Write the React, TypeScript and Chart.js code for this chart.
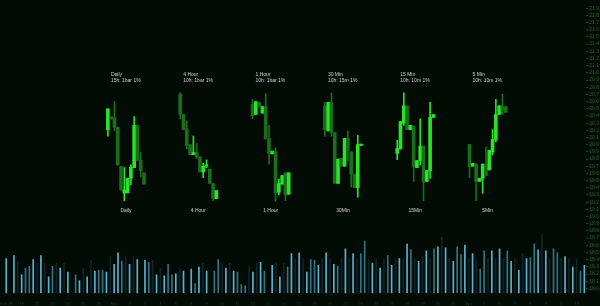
import React, { useEffect, useRef } from 'react';
import { Chart, registerables } from 'chart.js';

Chart.register(...registerables);

// ---- Data ----
const TIMEFRAMES = ['Daily', '4 Hour', '1 Hour', '30 Min', '15 Min', '5 Min'];
const TIMEFRAME_INFO = ['15h: 1bar 1%', '10h: 1bar 1%', '10h: 1bar 1%', '10h: 15m 1%', '10h: 10m 1%', '10h: 10m 1%'];
const BOTTOM_LABELS = ['Daily', '4 Hour', '1 Hour', '30Min', '15Min', '5Min'];

// candles: [open, high, low, close]
const DAILY = [
  [20.21, 20.50, 20.12, 20.50], [20.39, 20.39, 20.36, 20.36], [20.37, 20.60, 20.19, 20.24],
  [20.24, 20.24, 19.72, 19.72], [19.70, 19.70, 19.37, 19.37], [19.33, 19.68, 19.22, 19.37],
  [19.33, 19.53, 19.33, 19.53], [19.53, 19.72, 19.44, 19.69], [19.68, 20.39, 19.68, 20.27],
  [20.27, 20.27, 19.78, 19.78], [19.78, 19.89, 19.55, 19.64], [19.61, 19.61, 19.45, 19.45],
];
const HOUR_4 = [
  [20.70, 20.72, 20.36, 20.42], [20.42, 20.42, 20.21, 20.21], [20.21, 20.33, 19.94, 19.99],
  [20.00, 20.00, 19.86, 19.86], [19.86, 20.12, 19.86, 19.89], [19.89, 20.02, 19.81, 19.83],
  [19.83, 19.83, 19.62, 19.62], [19.62, 19.74, 19.54, 19.70], [19.70, 19.79, 19.68, 19.72],
  [19.66, 19.66, 19.46, 19.46], [19.46, 19.46, 19.22, 19.25], [19.25, 19.36, 19.25, 19.36],
];
const HOUR_1 = [
  [20.56, 20.63, 20.36, 20.40], [20.42, 20.60, 20.42, 20.60], [20.59, 20.59, 20.53, 20.53],
  [20.44, 20.53, 20.44, 20.53], [20.53, 20.71, 20.08, 20.08], [20.08, 20.27, 19.73, 19.88],
  [19.87, 19.91, 19.87, 19.91], [19.90, 19.96, 19.21, 19.33], [19.34, 19.52, 19.30, 19.46],
  [19.45, 19.57, 19.45, 19.57], [19.61, 19.61, 19.22, 19.30], [19.31, 19.61, 19.31, 19.61],
];
const MIN_30 = [
  [20.54, 20.59, 20.12, 20.21], [20.19, 20.59, 20.19, 20.59], [20.59, 20.72, 20.12, 20.17],
  [20.17, 20.17, 19.46, 19.46], [19.46, 19.80, 19.46, 19.80], [19.81, 19.81, 19.70, 19.70],
  [19.70, 20.09, 19.70, 20.09], [20.09, 20.19, 19.77, 19.92], [19.90, 19.90, 19.41, 19.59],
  [19.59, 19.59, 19.40, 19.40], [19.40, 20.13, 19.27, 20.00], [19.99, 20.01, 19.99, 20.01],
];
const MIN_15 = [
  [19.88, 20.06, 19.79, 19.95], [19.94, 20.32, 19.94, 20.32], [20.30, 20.72, 20.27, 20.54],
  [20.54, 20.54, 20.21, 20.21], [20.21, 20.27, 20.21, 20.27], [20.26, 20.26, 19.49, 19.69],
  [19.68, 19.78, 19.68, 19.78], [19.78, 20.36, 19.72, 19.98], [19.98, 19.98, 19.22, 19.48],
  [19.49, 19.64, 19.49, 19.64], [19.64, 20.59, 19.53, 20.38], [20.38, 20.42, 20.38, 20.42],
];
const MIN_5 = [
  [20.00, 20.00, 19.54, 19.69], [19.70, 19.74, 19.70, 19.74], [19.73, 19.73, 19.22, 19.49],
  [19.49, 19.53, 19.49, 19.53], [19.53, 19.73, 19.32, 19.73], [19.73, 19.97, 19.57, 19.57],
  [19.65, 19.92, 19.65, 19.92], [19.90, 20.21, 19.86, 20.07], [20.07, 20.63, 20.04, 20.42],
  [20.42, 20.54, 20.42, 20.54], [20.54, 20.70, 20.42, 20.48], [20.53, 20.53, 20.45, 20.45],
];
const GROUPS = [DAILY, HOUR_4, HOUR_1, MIN_30, MIN_15, MIN_5];
const GROUP_START = [31, 53, 75, 97, 119, 141];
const SLOT_COUNT = 177;

const VOLUME = [
  36, null, 39, 33, 19, 26, 28, 35, 31, 39,
  31, 17, 28, 31, 26, 31, 22, null, 19, 13,
  26, 17, 34, 23, 24, 24, 22, 38, 30, 42,
  33, 38, 30, 38, 35, null, 34, 32, 34, 19,
  26, 18, 30, 19, 20, 26, 23, null, 25, 10,
  27, 31, 23, null, 23, 35, 31, 26, 31, 23,
  22, 9, 8, 28, 22, 31, 32, 23, null, 29,
  31, 17, 31, 27, 41, 36, 42, 36, 22, 35,
  34, 29, 36, 42, 36, 30, 28, 36, 46, 36,
  41, 36, 41, 54, 36, 31, 36, 26, 36, 39,
  29, 36, 36, 36, 51, 45, 36, 33, 38, 44,
  36, 46, 48, 58, 47, 36, 33, 48, 40, 50,
  36, 41, 36, 25, 44, 36, 44, 36, 46, 36,
  44, 33, 36, 24, 41, 36, 37, 51, 45, 61,
  44, 36, 46, 42, 36, 38, 36, 27, 36, 23,
  29,
];
const VOLUME_SHADE =
  'b-bkbddbkb' + 'kbdkbkb-db' + 'kbkbddbkbb' + 'dkbkb-bdkb' + 'kbddbkb-bd' +
  'bkb-ddkbkb' + 'dddkbkbd-b' + 'kbkdbkbkbd' + 'dbkbkbdkbk' + 'bkddkbkbkd' +
  'bkbkbdkbkb' + 'kdbkbkbddb' + 'kbkddkbkbk' + 'dbkbkbddbk' + 'bkddkbkbkd' + 'b';
const VOL_TICK_TEXT = ['Feb 18', '19', '22', '23', '24', '25', '26', 'Mar', '2', '3', '4', '5', '8', '9', '10', '11', '12', '15', '16', '17', '18', '19', '22', '23', '24', '25', '26', '29', '30', '31', 'Apr', '5', '6', '7', '8', '9', '12', '13'];

const PRICE_TICKS = [
  18.0, 18.1, 18.2, 18.3, 18.4, 18.5, 18.6, 18.7, 18.8, 18.9,
  19.0, 19.1, 19.2, 19.3, 19.4, 19.5, 19.6, 19.7, 19.8, 19.9,
  20.0, 20.1, 20.2, 20.3, 20.4, 20.5, 20.6, 20.7, 20.8, 20.9,
  21.0, 21.1, 21.2, 21.3, 21.4, 21.5, 21.6, 21.7, 21.8, 21.9,
];
const PRICE_MIN = 17.933;
const PRICE_MAX = 21.958;
const TOP_LABEL_PRICE = 20.975;
const BOTTOM_LABEL_PRICE = 19.078;

// ---- Styles ----
const BG = '#030b05';
const UP = '#28e428';
const DOWN = '#1b6e1b';
const VOL_COLORS: Record<string, string> = { b: '#58b2d2', d: '#337386', k: '#12232a', '-': 'transparent' };
const FONT = '"Liberation Sans", Arial, sans-serif';

export default function App() {
  const ref = useRef<HTMLCanvasElement>(null);

  useEffect(() => {
    document.body.style.margin = '0';
    document.body.style.background = BG;
    const slots = Array.from({ length: SLOT_COUNT }, (_, i) => String(i));
    const volSlots = VOLUME.map((_, i) => String(i));
    const wick: ([number, number] | null)[] = slots.map(() => null);
    const body: ([number, number] | null)[] = slots.map(() => null);
    const colors: string[] = slots.map(() => 'transparent');
    GROUPS.forEach((g, gi) => {
      g.forEach(([o, h, l, c], i) => {
        const s = GROUP_START[gi] + i;
        wick[s] = [l, h];
        body[s] = [o, c];
        colors[s] = c >= o ? UP : DOWN;
      });
    });

    const labelPlugin = {
      id: 'tfLabels',
      afterDatasetsDraw(chart: any) {
        const { ctx, scales } = chart;
        const x = scales.x;
        const y = scales.y;
        ctx.save();
        ctx.font = `5px ${FONT}`;
        ctx.textBaseline = 'middle';
        ctx.fillStyle = '#cfcfcf';
        GROUP_START.forEach((s, gi) => {
          const x0 = x.getPixelForValue(s);
          const yTop = y.getPixelForValue(TOP_LABEL_PRICE);
          ctx.textAlign = 'left';
          ctx.fillText(TIMEFRAMES[gi], x0 + 3, yTop);
          ctx.fillText(TIMEFRAME_INFO[gi], x0 + 3, yTop + 5.5);
          const xc = (x.getPixelForValue(s) + x.getPixelForValue(s + GROUPS[gi].length - 1)) / 2;
          ctx.textAlign = 'center';
          ctx.fillText(BOTTOM_LABELS[gi], xc, y.getPixelForValue(BOTTOM_LABEL_PRICE));
        });
        ctx.restore();
      },
    };

    const chart = new Chart(ref.current!, {
      type: 'bar',
      data: {
        labels: slots,
        datasets: [
          {
            label: 'body',
            data: body as any,
            backgroundColor: colors,
            barThickness: 3,
            grouped: false,
            minBarLength: 1,
            xAxisID: 'x',
            yAxisID: 'y',
            order: 1,
          },
          {
            label: 'wick',
            data: wick as any,
            backgroundColor: colors,
            barThickness: 1,
            grouped: false,
            xAxisID: 'x',
            yAxisID: 'y',
            order: 2,
          },
          {
            label: 'volume',
            data: VOLUME as any,
            backgroundColor: VOLUME_SHADE.split('').map((k) => VOL_COLORS[k]),
            barThickness: 1,
            grouped: false,
            xAxisID: 'xv',
            yAxisID: 'yv',
            order: 3,
          },
        ],
      },
      options: {
        animation: false,
        responsive: true,
        maintainAspectRatio: false,
        layout: { padding: 0 },
        plugins: { legend: { display: false }, tooltip: { enabled: false }, title: { display: false } },
        scales: {
          x: { type: 'category', labels: slots, display: false, offset: true },
          xv: {
            type: 'category',
            labels: volSlots,
            position: 'bottom',
            offset: true,
            grid: { display: false },
            border: { display: false },
            ticks: {
              autoSkip: false,
              maxRotation: 0,
              padding: 0,
              color: '#173f1d',
              font: { size: 4, family: FONT },
              callback: (_v: any, i: number) => (i % 4 === 0 ? VOL_TICK_TEXT[i / 4] ?? '' : ''),
            },
          },
          y: {
            type: 'linear',
            position: 'right',
            min: PRICE_MIN,
            max: PRICE_MAX,
            afterBuildTicks: (s: any) => {
              s.ticks = PRICE_TICKS.map((v) => ({ value: v }));
            },
            grid: { drawOnChartArea: false, tickLength: 2, color: '#184a21' },
            border: { display: false },
            ticks: {
              autoSkip: false,
              padding: 1,
              color: '#226a2c',
              font: { size: 5, family: FONT },
              callback: (v: any) => Number(v).toFixed(1),
            },
          },
          yv: { type: 'linear', display: false, min: 0, max: 300 },
        },
      } as any,
      plugins: [labelPlugin],
    });
    return () => chart.destroy();
  }, []);

  return (
    <div style={{ width: 600, height: 306, background: BG, position: 'relative' }}>
      <canvas ref={ref} />
    </div>
  );
}
